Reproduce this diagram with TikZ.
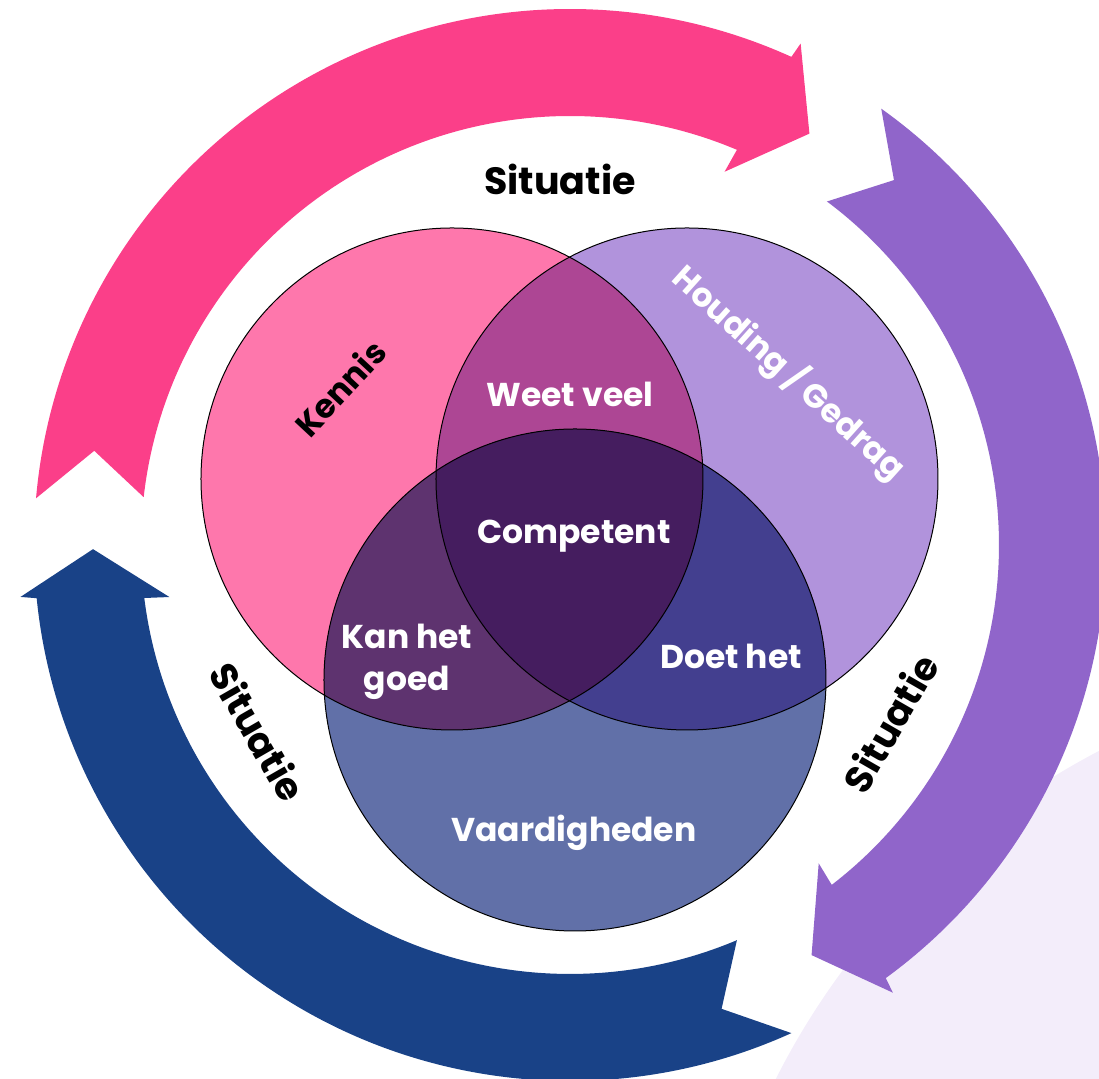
\documentclass[tikz,border=0pt]{standalone}
\usepackage{fontspec}
\setmainfont{Poppins}
\definecolor{arrowpink}{HTML}{FB3F89}
\definecolor{arrowpurple}{HTML}{9065CA}
\definecolor{arrowblue}{HTML}{194287}
\definecolor{kennisc}{HTML}{FE77AC}
\definecolor{houdingc}{HTML}{B193DC}
\definecolor{vaardc}{HTML}{6170A8}
\definecolor{weetc}{HTML}{AD4694}
\definecolor{kanc}{HTML}{5E336F}
\definecolor{doetc}{HTML}{433F8F}
\definecolor{compc}{HTML}{451D5F}
\definecolor{blobc}{HTML}{F3EDFA}
\begin{document}
\begin{tikzpicture}[x=0.5pt,y=0.5pt,
    vennline/.style={draw=black,line width=0.5pt},
    lbl/.style={font=\bfseries\fontsize{16.5}{21}\selectfont,text=white,inner sep=0pt,align=center},
    sit/.style={font=\bfseries\fontsize{19}{23}\selectfont,text=black,inner sep=0pt}]
  \useasboundingbox (-570,-534) rectangle (529,545);
  % soft disc in the lower right corner
  \fill[blobc] (876,-871) circle[radius=750];
  % three circular arrows, running clockwise
  \fill[arrowpink] (175:536) arc[start angle=175,end angle=65.6,radius=536] -- (65.3:552) -- (59.8:476)
    -- (67.5:404) -- (67.1:429) arc[start angle=67.1,end angle=173.6,radius=429] -- (168.8:485) -- cycle;
  \fill[arrowpurple] (54.5:536) arc[start angle=54.5,end angle=-53.9,radius=536] -- (-54.2:552) -- (-59.5:476)
    -- (-52:404) -- (-52.4:429) arc[start angle=-52.4,end angle=53.2,radius=429] -- (48.4:488) -- cycle;
  \fill[arrowblue] (294.4:536) arc[start angle=294.4,end angle=185.7,radius=536] -- (185.4:552) -- (180.5:477)
    -- (187.4:404) -- (187.1:429) arc[start angle=187.1,end angle=292.9,radius=429] -- (288.1:488) -- cycle;
  % venn circles
  \coordinate (kennis) at (-118,66);
  \coordinate (houding) at (117,66);
  \coordinate (vaard) at (5,-135);
  \fill[kennisc] (kennis) circle[radius=251];
  \fill[houdingc] (houding) circle[radius=251];
  \fill[vaardc] (vaard) circle[radius=251];
  \begin{scope}
    \clip (kennis) circle[radius=251];
    \fill[weetc] (houding) circle[radius=251];
    \fill[kanc] (vaard) circle[radius=251];
  \end{scope}
  \begin{scope}
    \clip (houding) circle[radius=251];
    \fill[doetc] (vaard) circle[radius=251];
    \clip (kennis) circle[radius=251];
    \fill[compc] (vaard) circle[radius=251];
  \end{scope}
  \draw[vennline] (kennis) circle[radius=251];
  \draw[vennline] (houding) circle[radius=251];
  \draw[vennline] (vaard) circle[radius=251];
  % labels
  \node[sit,anchor=base] (sittop) at (-10,350) {Situatie};
  \node[sit,rotate=-60] (sitleft) at (-312,-187) {Situatie};
  \node[sit,rotate=60] (sitright) at (320,-178) {Situatie};
  \node[lbl,text=black,rotate=47] (kennislbl) at (-230,157) {Kennis};
  \node[lbl,rotate=-42] (houdinglbl) at (219,172) {Houding / Gedrag};
  \node[lbl,anchor=base] (weetlbl) at (0,138) {Weet veel};
  \node[lbl,anchor=base] (complbl) at (4,1) {Competent};
  \node[lbl] (kanlbl) at (-163,-117) {Kan het\\goed};
  \node[lbl,anchor=base] (doetlbl) at (161,-124) {Doet het};
  \node[lbl,anchor=base] (vaardlbl) at (4,-297) {Vaardigheden};
\end{tikzpicture}
\end{document}
